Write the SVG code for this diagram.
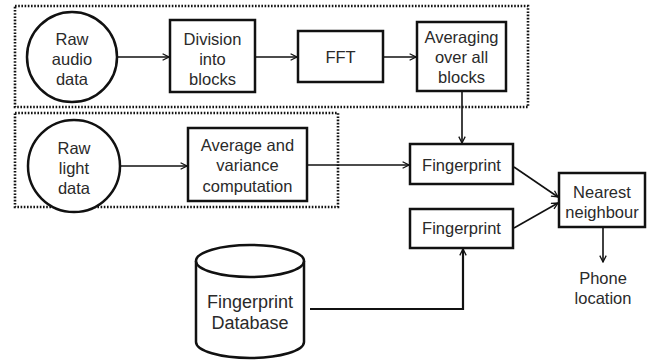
<svg xmlns="http://www.w3.org/2000/svg" width="657" height="363" viewBox="0 0 657 363">
  <defs>
    <marker id="arrow" viewBox="0 0 10 10" refX="9" refY="5" markerWidth="8" markerHeight="8" markerUnits="userSpaceOnUse" orient="auto">
      <path d="M1,1 L9,5 L1,9" fill="none" stroke="#111" stroke-width="1.6"/>
    </marker>
  </defs>
  <style>
    .box { fill: #fff; stroke: #111; stroke-width: 2.5; }
    .group { fill: none; stroke: #111; stroke-width: 2.6; stroke-dasharray: 1.6 1.6; }
    .edge { fill: none; stroke: #111; stroke-width: 1.6; }
    .thick { fill: none; stroke: #111; stroke-width: 2.2; }
    text { font-family: "Liberation Sans", Arial, sans-serif; font-size: 16.5px; fill: #2a2a2a; text-anchor: middle; dominant-baseline: central; }
    .db { font-size: 18px; }
  </style>

  <rect width="657" height="363" fill="#fff"/>

  <!-- dotted stage groupings -->
  <g id="audio-stage">
    <rect class="group" x="15" y="6" width="513" height="101"/>
  </g>
  <g id="light-stage">
    <rect class="group" x="15" y="113" width="323" height="94"/>
  </g>

  <!-- connectors -->
  <g id="connectors">
    <line class="edge" x1="118" y1="57" x2="169" y2="57" marker-end="url(#arrow)"/>
    <line class="edge" x1="255" y1="57" x2="297" y2="57" marker-end="url(#arrow)"/>
    <line class="edge" x1="383" y1="57" x2="416" y2="57" marker-end="url(#arrow)"/>
    <line class="edge" x1="462" y1="91" x2="462" y2="143" marker-end="url(#arrow)"/>
    <line class="edge" x1="120" y1="166" x2="187" y2="166" marker-end="url(#arrow)"/>
    <line class="edge" x1="307" y1="165" x2="409" y2="165" marker-end="url(#arrow)"/>
    <line class="edge" x1="514" y1="167" x2="558" y2="197" marker-end="url(#arrow)"/>
    <line class="edge" x1="514" y1="228" x2="558" y2="203" marker-end="url(#arrow)"/>
    <line class="edge" x1="603" y1="227" x2="603" y2="262" marker-end="url(#arrow)"/>
    <polyline class="thick" points="310,309 463,309 463,249" marker-end="url(#arrow)"/>
  </g>

  <g id="raw-audio">
    <circle class="box" cx="72" cy="57" r="45"/>
    <text x="72" y="39">Raw</text>
    <text x="72" y="59">audio</text>
    <text x="72" y="79">data</text>
  </g>
  <g id="division">
    <rect class="box" x="170" y="20" width="85" height="72"/>
    <text x="212.5" y="39">Division</text>
    <text x="212.5" y="59">into</text>
    <text x="212.5" y="79">blocks</text>
  </g>
  <g id="fft">
    <rect class="box" x="298" y="31" width="85" height="51"/>
    <text x="340.5" y="57">FFT</text>
  </g>
  <g id="averaging">
    <rect class="box" x="417" y="22" width="89" height="69"/>
    <text x="461.5" y="37">Averaging</text>
    <text x="461.5" y="57">over all</text>
    <text x="461.5" y="77">blocks</text>
  </g>

  <g id="raw-light">
    <circle class="box" cx="74" cy="166" r="46"/>
    <text x="74" y="148">Raw</text>
    <text x="74" y="168">light</text>
    <text x="74" y="188">data</text>
  </g>
  <g id="avg-variance">
    <rect class="box" x="188" y="128" width="119" height="73"/>
    <text x="247.5" y="145">Average and</text>
    <text x="247.5" y="165">variance</text>
    <text x="247.5" y="186">computation</text>
  </g>

  <g id="fingerprint-live">
    <rect class="box" x="410" y="144" width="103" height="40"/>
    <text x="461.5" y="165">Fingerprint</text>
  </g>
  <g id="fingerprint-stored">
    <rect class="box" x="410" y="209" width="103" height="39"/>
    <text x="461.5" y="228">Fingerprint</text>
  </g>
  <g id="nearest-neighbour">
    <rect class="box" x="559" y="173" width="86" height="54"/>
    <text x="602" y="192">Nearest</text>
    <text x="602" y="212">neighbour</text>
  </g>
  <g id="phone-location">
    <text x="603" y="278">Phone</text>
    <text x="603" y="298">location</text>
  </g>

  <g id="fingerprint-db">
    <path class="box" d="M196,261 A54,16 0 0 1 304,261 L304,342 A54,16 0 0 1 196,342 Z"/>
    <path class="box" d="M196,261 A54,16 0 0 0 304,261" fill="none"/>
    <text class="db" x="250" y="302">Fingerprint</text>
    <text class="db" x="250" y="323">Database</text>
  </g>
</svg>
